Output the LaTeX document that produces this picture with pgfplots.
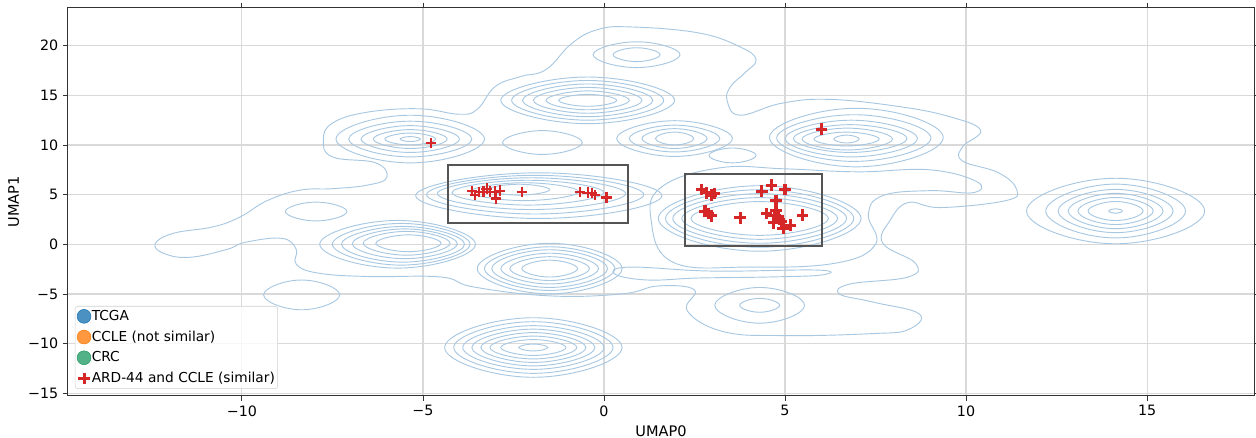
\documentclass[border=0pt]{standalone}
\usepackage{fontspec}
\setmainfont{DejaVu Sans}
\usepackage{pgfplots}
\pgfplotsset{compat=1.18}
\definecolor{tabblue}{HTML}{1F77B4}
\definecolor{taborange}{HTML}{FF7F0E}
\definecolor{tabgreen}{HTML}{279E68}
\definecolor{tabred}{HTML}{D62728}
\definecolor{ctrblue}{HTML}{A8C8E2}
\pgfplotsset{ctr/.style={ctrblue, line width=0.7pt, smooth cycle, tension=0.83, forget plot, no markers}}
\newcommand\ring[4]{%
 \pgfmathsetmacro\rXa{#1+#3}\pgfmathsetmacro\rXb{#1-#3}%
 \pgfmathsetmacro\rYa{#2+#4}\pgfmathsetmacro\rYb{#2-#4}%
 \addplot[ctr] coordinates {(\rXa,#2) (#1,\rYa) (\rXb,#2) (#1,\rYb)};}
\newcommand\family[3]{\foreach \fa/\fb in {#3}{\ring{#1}{#2}{\fa}{\fb}}}
\begin{document}
\begin{tikzpicture}
\useasboundingbox (-50.8pt,-31.5pt) rectangle (891.3pt,297pt);
\begin{axis}[
  at={(0,0)}, anchor=south west,
  scale only axis, width=890pt, height=291.5pt,
  xmin=-14.81, xmax=17.96, ymin=-15.28, ymax=23.87,
  xtick={-10,-5,0,5,10,15}, xticklabels={−10,−5,0,5,10,15},
  ytick={-15,-10,-5,0,5,10,15,20}, yticklabels={−15,−10,−5,0,5,10,15,20},
  grid=major, major grid style={gray!30, line width=0.9pt},
  tick align=outside, major tick length=3.6pt,
  tick style={black!80, line width=0.6pt},
  axis line style={black!80, line width=0.8pt},
  ticklabel style={font=\fontsize{10.7}{12}\selectfont},
  label style={font=\fontsize{10.9}{12}\selectfont},
  xlabel={UMAP0}, ylabel={UMAP1},
  legend style={at={(0.006,0.018)}, anchor=south west, draw=black!18,
    fill=white, fill opacity=0.8, text opacity=1, draw opacity=1,
    rounded corners=2pt, font=\fontsize{10.3}{12}\selectfont,
    inner xsep=1.5pt, inner ysep=2pt, row sep=4.3pt,
    nodes={inner xsep=0.6pt, inner ysep=1pt}},
  legend cell align=left,
  legend image code/.code={\draw[#1] plot coordinates {(5.25pt,0pt)};},
]
% outer envelope of the density contours
\addplot[ctr, tension=0.7] coordinates {
(-12.4,0.0) (-11.9,1.1) (-10.8,1.75) (-10.05,2.75) (-9.3,4.4) (-8.4,5.45) (-7.5,5.6) (-6.55,5.95) (-6.0,6.7) (-6.3,8.2) (-7.5,8.8) (-7.75,10.5) (-7.5,12.2) (-6.55,13.3) (-5.1,13.65) (-4.0,13.1) (-3.5,13.6) (-3.0,15.9) (-2.3,16.9) (-1.6,17.6) (-0.9,20.2) (-0.2,21.6) (0.7,21.9) (2.6,21.3) (3.75,19.9) (4.2,18.6) (3.9,17.3) (3.5,15.9) (3.4,14.5) (3.75,13.0) (4.9,14.2) (6.2,14.6) (8.1,13.9) (9.5,12.9) (10.4,11.5) (9.9,9.8) (9.9,8.4) (10.9,7.2) (11.4,5.5) (11.1,4.4) (9.3,3.7) (8.4,4.2) (7.9,2.4) (7.7,0.1) (8.6,-1.9) (8.4,-3.3) (6.8,-4.0) (6.5,-5.0) (7.4,-5.8) (8.7,-7.0) (8.4,-8.6) (7.4,-9.0) (5.0,-9.2) (3.3,-8.8) (2.3,-6.7) (2.5,-4.6) (1.5,-4.2) (0.5,-5.0) (-1.5,-5.2) (-3.6,-4.3) (-4.5,-3.3) (-6.5,-3.25) (-7.9,-2.9) (-8.5,-2.0) (-8.5,-0.5) (-8.9,0.6) (-9.9,0.2) (-10.4,-0.5) (-11.4,-1.3) (-12.1,-1.0)};
% inner contour around right cluster
\addplot[ctr, tension=0.7] coordinates {
(1.3,2.5) (1.6,5.8) (3.2,7.7) (5.0,7.6) (7.0,7.3) (9.0,7.5) (10.3,6.3) (10.2,5.2) (9.0,5.4) (7.7,4.9) (7.3,3.0) (7.5,0.0) (6.4,-1.9) (4.0,-2.3) (1.9,-1.8)};
% tongue below right cluster
\addplot[ctr, tension=0.7] coordinates {
(0.7,-2.3) (3.0,-2.7) (5.9,-2.6) (6.0,-3.1) (4.5,-3.3) (2.6,-3.4) (1.2,-3.6) (0.3,-3.0)};
% concentric families
\family{-5.35}{10.6}{0.28/0.25,0.7/0.6,1.02/0.95,1.36/1.35,1.7/1.8,2.05/2.4}
\family{-0.45}{14.5}{0.8/0.6,1.15/0.95,1.5/1.3,1.8/1.65,2.1/2.0,2.4/2.35}
\family{0.9}{19.1}{0.65/0.7,1.2/1.3}
\family{1.95}{10.65}{0.53/0.65,0.9/1.0,1.25/1.35,1.6/1.8}
\ring{3.55}{8.95}{0.65}{0.75}
\ring{-1.7}{10.25}{1.1}{1.2}
\ring{6.7}{10.6}{0.35}{0.4}
\ring{6.7}{10.6}{0.9}{0.7}
\ring{6.72}{10.6}{1.25}{1.1}
\ring{6.8}{10.65}{1.57}{1.4}
\ring{6.83}{10.65}{1.83}{1.85}
\ring{6.9}{10.7}{2.13}{2.35}
\ring{6.97}{10.75}{2.4}{2.95}
\family{4.3}{2.6}{1.9/1.7,2.15/2.1,2.4/2.5,2.6/2.9,2.8/3.3}
\ring{-2.35}{5.5}{0.85}{0.55}
\ring{-2.2}{5.3}{1.5}{0.9}
\ring{-2.1}{5.2}{2.1}{1.25}
\ring{-2.0}{5.1}{2.6}{1.6}
\ring{-1.9}{5.0}{3.0}{1.95}
\ring{-1.8}{4.9}{3.4}{2.3}
\ring{-5.4}{0.1}{0.9}{0.85}
\ring{-5.45}{0.1}{1.2}{1.2}
\ring{-5.5}{0.05}{1.45}{1.5}
\ring{-5.55}{0.0}{1.7}{1.8}
\ring{-5.6}{0.0}{1.9}{2.1}
\ring{-5.7}{0.0}{2.15}{2.4}
\family{-1.5}{-2.45}{0.77/0.85,1.1/1.2,1.35/1.55,1.6/1.9,1.8/2.2,2.0/2.55}
\family{-1.95}{-10.4}{0.4/0.35,0.9/0.8,1.2/1.15,1.45/1.5,1.7/1.85,1.95/2.2,2.2/2.6,2.45/3.0}
\family{4.3}{-6.15}{0.55/0.7,1.24/1.8}
\family{14.13}{3.35}{0.19/0.23,0.76/0.96,1.04/1.36,1.31/1.78,1.59/2.18,1.93/2.71,2.46/3.3}
\ring{-7.95}{3.3}{0.85}{0.95}
\ring{-8.35}{-5.1}{1.05}{1.5}
% selection boxes
\addplot[draw=black!67, line width=1.5pt, line cap=rect, forget plot, no markers] coordinates {(-4.3,2.1) (0.65,2.1) (0.65,7.98) (-4.3,7.98) (-4.3,2.1)};
\addplot[draw=black!67, line width=1.5pt, line cap=rect, forget plot, no markers] coordinates {(2.24,-0.2) (6.02,-0.2) (6.02,7.07) (2.24,7.07) (2.24,-0.2)};
% legend entries for the hidden groups
\addlegendimage{only marks, mark=*, mark size=5.2pt, color=tabblue}
\addlegendentry{TCGA}
\addlegendimage{only marks, mark=*, mark size=5.2pt, color=taborange}
\addlegendentry{CCLE (not similar)}
\addlegendimage{only marks, mark=*, mark size=5.2pt, color=tabgreen}
\addlegendentry{CRC}
% similar samples
\addplot[only marks, mark=+, mark size=4.3pt, color=tabred, mark options={line width=2.3pt}] coordinates {
(2.7,5.52) (2.84,5.18) (2.97,4.95) (3.05,5.1) (2.79,3.33) (2.88,3.1) (2.97,2.86) (3.76,2.66)
(4.36,5.35) (4.63,5.96) (5.0,5.52) (4.75,4.38) (4.49,3.1) (4.75,3.43) (4.82,2.76) (4.9,2.26)
(4.68,2.15) (4.95,1.58) (5.14,1.92) (4.85,2.5) (4.7,2.9) (5.49,2.93) (6.01,11.6)};
\addlegendentry{ARD-44 and CCLE (similar)}
\addplot[only marks, mark=+, mark size=3.9pt, color=tabred, mark options={line width=1.7pt}, forget plot] coordinates {
(-3.65,5.38) (-3.56,4.95) (-3.45,5.25) (-3.33,5.3) (-3.24,5.6) (-3.15,5.3) (-3.01,5.3) (-2.98,4.6)
(-2.87,5.4) (-2.27,5.29) (-0.66,5.29) (-0.34,5.18) (-0.25,4.95) (0.07,4.71) (-0.45,5.2) (-4.78,10.2)};
\end{axis}
\end{tikzpicture}
\end{document}
